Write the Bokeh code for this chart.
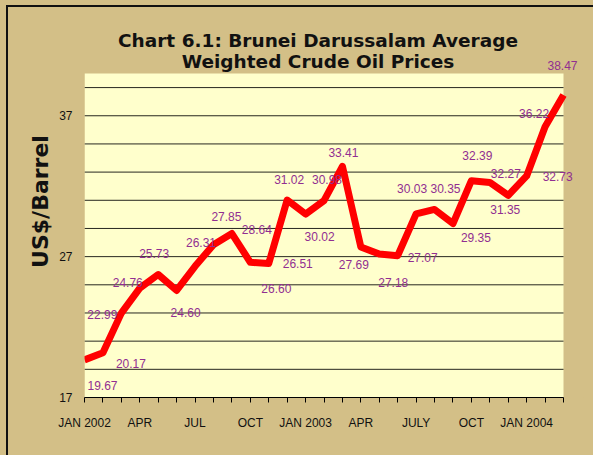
from bokeh.plotting import figure
from bokeh.models import (ColumnDataSource, Range1d, FixedTicker, LabelSet, Label, Title)
from bokeh.core.properties import value
from bokeh.embed import file_html
from bokeh.resources import INLINE

# ---- data ----
months = ["2002-01", "2002-02", "2002-03", "2002-04", "2002-05", "2002-06",
          "2002-07", "2002-08", "2002-09", "2002-10", "2002-11", "2002-12",
          "2003-01", "2003-02", "2003-03", "2003-04", "2003-05", "2003-06",
          "2003-07", "2003-08", "2003-09", "2003-10", "2003-11", "2003-12",
          "2004-01", "2004-02", "2004-03"]
tick_labels = ["JAN 2002", "", "", "APR", "", "", "JUL", "", "", "OCT", "", "",
               "JAN 2003", "", "", "APR", "", "", "JULY", "", "", "OCT", "", "",
               "JAN 2004", "", ""]
prices = [19.67, 20.17, 22.99, 24.76, 25.73, 24.60, 26.31, 27.85, 28.64,
          26.60, 26.51, 31.02, 30.02, 30.98, 33.41, 27.69, 27.18, 27.07,
          30.03, 30.35, 29.35, 32.39, 32.27, 31.35, 32.73, 36.22, 38.47]
y_min, y_max = 17, 40
y_ticks = [17, 27, 37]
grid_levels = [19, 21, 23, 25, 27, 29, 31, 33, 35, 37, 39]

# ---- label placement (style, screen px; +dy = down) ----
label_dx = [18, 28, -19, -12, -4, 9, 6, 13, 25, 26, 29, 2, 14, 3, 1, -7, 14,
            25, -4, 11, 23, 6, 16, -3, 31, -11, -1]
label_dy = [26, 11, 1, -6, -21, 22, -24, -28, -4, 26, 0, -21, 22, -21, -14,
            18, 28, 2, -25, -21, 14, -25, -9, 14, 1, -13, -30]

TAN = "#D3BF87"
PLOT_BG = "#FFFFCC"
PURPLE = "#912E91"
W, H = 593, 455

# ---- layout (pixel geometry of the plot area) ----
AREA_L, AREA_R, AREA_T, AREA_B = 84, 563, 73, 397
n = len(months)
x_unit = (AREA_R - AREA_L) / (n - 1)
y_unit = (AREA_B - AREA_T) / (y_max - y_min)
MB_LEFT, MB_RIGHT, MB_TOP, MB_BOTTOM = AREA_L, 10, 5, H - AREA_B
x_end = (W - MB_RIGHT - AREA_L) / x_unit
y_end = y_min + (AREA_B - MB_TOP) / y_unit


def px_x(px):
    return (px - AREA_L) / x_unit


def px_y(py):
    return y_min + (AREA_B - py) / y_unit


idx = list(range(n))
src = ColumnDataSource(dict(
    x=idx, y=prices,
    txt=["%.2f" % v for v in prices],
    dx=label_dx,
    dy=[-d for d in label_dy],
))

p = figure(width=W, height=H, output_backend="svg", toolbar_location=None,
           x_range=Range1d(0, x_end), y_range=Range1d(y_min, y_end),
           min_border_left=MB_LEFT, min_border_right=MB_RIGHT,
           min_border_top=MB_TOP, min_border_bottom=MB_BOTTOM)
p.background_fill_color = TAN
p.border_fill_color = TAN
p.outline_line_color = None
p.xgrid.grid_line_color = None
p.ygrid.grid_line_color = None

# plot area background and grid lines
p.quad(left=[0], right=[n - 1], bottom=[y_min], top=[y_max],
       fill_color=PLOT_BG, line_color=None)
p.segment(x0=[0] * len(grid_levels), x1=[n - 1] * len(grid_levels),
          y0=grid_levels, y1=grid_levels, line_color="black", line_width=1,
          line_alpha=0.85)

p.line("x", "y", source=src, line_color="#FF0000", line_width=7,
       line_join="round")

labels = LabelSet(x="x", y="y", text="txt", source=src, x_offset="dx",
                  y_offset="dy", text_align="center", text_baseline="middle",
                  text_font=value("Liberation Sans"), text_font_size=value("12px"),
                  text_color=PURPLE)
p.add_layout(labels)

# titles
for txt, py in [("Chart 6.1: Brunei Darussalam Average", 40),
                ("Weighted Crude Oil Prices", 61)]:
    p.add_layout(Label(x=px_x(317.5), y=px_y(py), text=txt,
                       text_align="center", text_baseline="middle",
                       text_font="DejaVu Sans", text_font_style="bold",
                       text_font_size="18.5px", text_color="#111111"))

# x axis
xa = p.xaxis[0]
xa.ticker = FixedTicker(ticks=idx)
xa.bounds = (0, n - 1)
xa.major_label_overrides = {i: lab for i, lab in zip(idx, tick_labels)}
xa.axis_line_color = "black"
xa.axis_line_width = 1
xa.major_tick_line_color = "black"
xa.major_tick_out = 5
xa.major_tick_in = 0
xa.minor_tick_line_color = None
xa.major_label_standoff = 13
xa.major_label_text_font = "Liberation Sans"
xa.major_label_text_font_size = "12px"
xa.major_label_text_color = "#111111"

# y axis
ya = p.yaxis[0]
ya.ticker = FixedTicker(ticks=y_ticks)
ya.axis_line_color = None
ya.major_tick_line_color = None
ya.minor_tick_line_color = None
ya.major_label_standoff = 6
ya.major_label_text_font = "Liberation Sans"
ya.major_label_text_font_size = "12px"
ya.major_label_text_color = "#111111"

ytitle = Title(text="US$/Barrel", align="center", offset=-13, standoff=8,
               text_font="DejaVu Sans", text_font_style="bold",
               text_font_size="22px", text_color="#111111")
p.add_layout(ytitle, "left")

html = file_html(p, INLINE)
style = ("<style>html,body{background:%s;}"
         "body::before{content:'';position:fixed;left:6px;top:5px;right:-30px;"
         "bottom:-30px;border-left:2px solid #111;border-top:2px solid #111;"
         "pointer-events:none;z-index:10;}</style>" % TAN)
html = html.replace("</head>", style + "</head>", 1)
open("out.html", "w").write(html)
